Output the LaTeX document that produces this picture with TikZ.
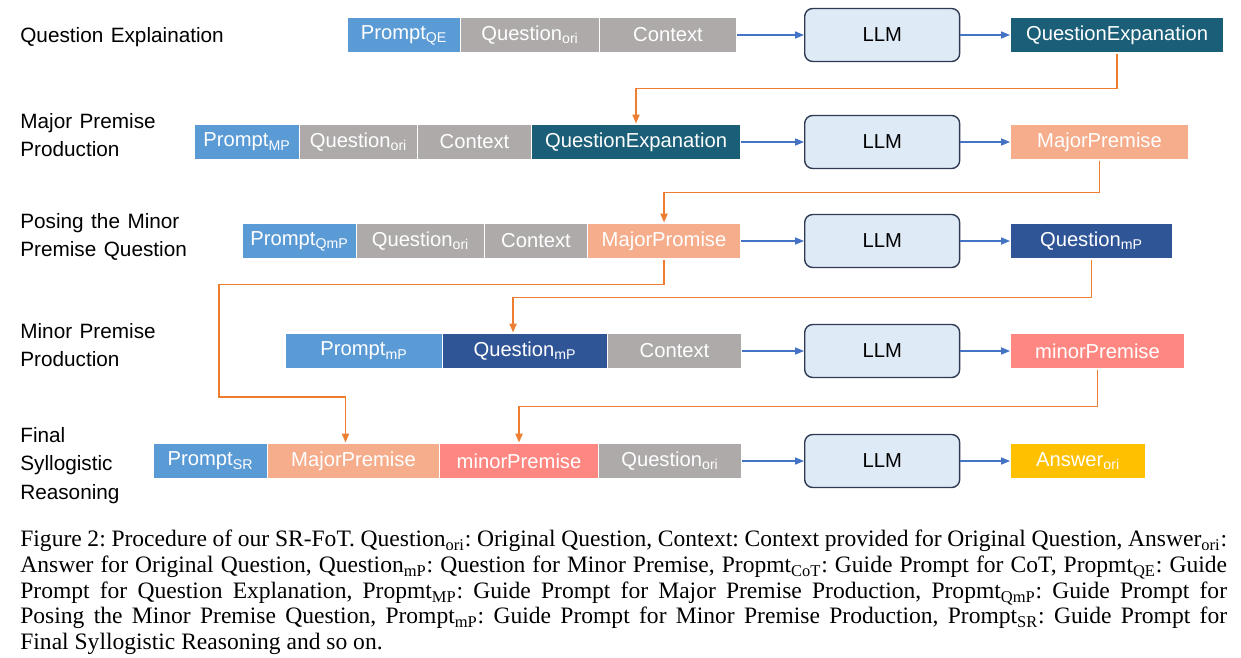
\documentclass[tikz,border=0pt]{standalone}
\usepackage{fontspec}
\setmainfont{Liberation Serif}
\newfontfamily\boxfont{Liberation Sans}
\newfontfamily\labelfont{Liberation Sans}[WordSpace=1.3]
\usetikzlibrary{arrows.meta}

\definecolor{promptblue}{HTML}{5B9BD5}
\definecolor{origray}{HTML}{AEAAAA}
\definecolor{qeteal}{HTML}{1A5E78}
\definecolor{qmpblue}{HTML}{2F5597}
\definecolor{majsalmon}{HTML}{F6AD8C}
\definecolor{minred}{HTML}{FF8782}
\definecolor{ansgold}{HTML}{FFC000}
\definecolor{llmfill}{HTML}{DEEBF7}
\definecolor{llmedge}{HTML}{2E3B52}
\definecolor{flowblue}{HTML}{4472C4}
\definecolor{feedorange}{HTML}{ED7D31}

\begin{document}
\begin{tikzpicture}[x=0.02cm, y=-0.02cm,
  blk/.style={draw=white, line width=0.6pt, text=white, inner sep=0pt, anchor=west,
    minimum height=0.72cm, font=\boxfont\fontsize{11.5}{13}\selectfont},
  llm/.style={draw=llmedge, fill=llmfill, line width=0.8pt, rounded corners=0.16cm, anchor=west,
    minimum width=3.1cm, minimum height=1.06cm, font=\boxfont\fontsize{11.5}{13}\selectfont},
  flow/.style={flowblue, line width=0.6pt, -{Triangle[length=5pt,width=4pt]}},
  feed/.style={feedorange, line width=0.9pt, -{Triangle[length=5pt,width=4pt]}},
  rowlabel/.style={anchor=north west, inner sep=0pt, align=left,
    font=\labelfont\fontsize{11.8}{16.2}\selectfont}]
% Pixel size of the grid
\def\px{0.02cm}
\useasboundingbox (0,0) rectangle (1241,657);

% Step labels on the left
\node[rowlabel] (t1) at (20,27) {Question Explaination};
\node[rowlabel] (t2) at (20,113) {Major Premise\\Production};
\node[rowlabel] (t3) at (20,213) {Posing the Minor\\Premise Question};
\node[rowlabel] (t4) at (20,323) {Minor Premise\\Production};
\node[rowlabel] (t5) at (20,427) {Final\\Syllogistic\\Reasoning};

% Row 1: question explanation
\node[blk, fill=promptblue, minimum width=113*\px] (p1) at (347,35) {Prompt\textsubscript{QE}};
\node[blk, fill=origray, minimum width=139*\px] (q1) at (460,35) {Question\textsubscript{ori}};
\node[blk, fill=origray, minimum width=137*\px] (c1) at (599,35) {Context};
\node[llm] (l1) at (804,35) {LLM};
\node[blk, fill=qeteal, minimum width=213*\px] (o1) at (1010,35) {QuestionExpanation};

% Row 2: major premise production
\node[blk, fill=promptblue, minimum width=105*\px] (p2) at (194,142) {Prompt\textsubscript{MP}};
\node[blk, fill=origray, minimum width=118*\px] (q2) at (299,142) {Question\textsubscript{ori}};
\node[blk, fill=origray, minimum width=114*\px] (c2) at (417,142) {Context};
\node[blk, fill=qeteal, minimum width=209*\px] (e2) at (531,142) {QuestionExpanation};
\node[llm] (l2) at (804,142) {LLM};
\node[blk, fill=majsalmon, minimum width=178*\px] (o2) at (1010,142) {MajorPremise};

% Row 3: posing the minor premise question
\node[blk, fill=promptblue, minimum width=114*\px] (p3) at (242,241) {Prompt\textsubscript{QmP}};
\node[blk, fill=origray, minimum width=128*\px] (q3) at (356,241) {Question\textsubscript{ori}};
\node[blk, fill=origray, minimum width=103*\px] (c3) at (484,241) {Context};
\node[blk, fill=majsalmon, minimum width=153*\px] (m3) at (587,241) {MajorPromise};
\node[llm] (l3) at (804,241) {LLM};
\node[blk, fill=qmpblue, minimum width=162*\px] (o3) at (1010,241) {Question\textsubscript{mP}};

% Row 4: minor premise production
\node[blk, fill=promptblue, minimum width=157*\px] (p4) at (285,351) {Prompt\textsubscript{mP}};
\node[blk, fill=qmpblue, minimum width=165*\px] (q4) at (442,351) {Question\textsubscript{mP}};
\node[blk, fill=origray, minimum width=134*\px] (c4) at (607,351) {Context};
\node[llm] (l4) at (804,351) {LLM};
\node[blk, fill=minred, minimum width=174*\px] (o4) at (1010,351) {minorPremise};

% Row 5: final syllogistic reasoning
\node[blk, fill=promptblue, minimum width=114*\px] (p5) at (153,461) {Prompt\textsubscript{SR}};
\node[blk, fill=majsalmon, minimum width=172*\px] (m5) at (267,461) {MajorPremise};
\node[blk, fill=minred, minimum width=159*\px] (n5) at (439,461) {minorPremise};
\node[blk, fill=origray, minimum width=143*\px] (q5) at (598,461) {Question\textsubscript{ori}};
\node[llm] (l5) at (804,461) {LLM};
\node[blk, fill=ansgold, minimum width=135*\px] (o5) at (1010,461) {Answer\textsubscript{ori}};

% Inputs into the LLM and out again
\foreach \a/\b/\c in {c1/l1/o1, e2/l2/o2, m3/l3/o3, c4/l4/o4, q5/l5/o5} {
  \draw[flow] (\a.east) -- (\b.west);
  \draw[flow] (\b.east) -- (\c.west);
}

% Outputs fed back into later steps
\coordinate (leftbend) at (219,397);
\draw[feed] (o1.south) -- ++(0,35) -| (e2.north);
\draw[feed] (o2.south) -- ++(0,32) -| (m3.north);
\draw[feed] (m3.south) -- ++(0,25) -| (leftbend) -| ([xshift=-0.16cm]m5.north);
\draw[feed] (o3.south) -- ++(0,38) -| ([xshift=-0.24cm]q4.north);
\draw[feed] (o4.south) -- ++(0,37) -| (n5.north);

% Caption
\node[anchor=north west, inner sep=0pt, text width=24.14cm, align=justify,
  font=\fontsize{13.4}{14.6}\selectfont\frenchspacing] (cap) at (20,530) {Figure 2: Procedure of our SR-FoT. Question\textsubscript{ori}: Original Question, Context: Context provided for Original Question, Answer\textsubscript{ori}:\linebreak
Answer for Original Question, Question\textsubscript{mP}: Question for Minor Premise, Propmt\textsubscript{CoT}: Guide Prompt for CoT, Propmt\textsubscript{QE}: Guide\linebreak
Prompt for Question Explanation, Propmt\textsubscript{MP}: Guide Prompt for Major Premise Production, Propmt\textsubscript{QmP}: Guide Prompt for\linebreak
Posing the Minor Premise Question, Prompt\textsubscript{mP}: Guide Prompt for Minor Premise Production, Prompt\textsubscript{SR}: Guide Prompt for\linebreak
Final Syllogistic Reasoning and so on.};
\end{tikzpicture}
\end{document}
